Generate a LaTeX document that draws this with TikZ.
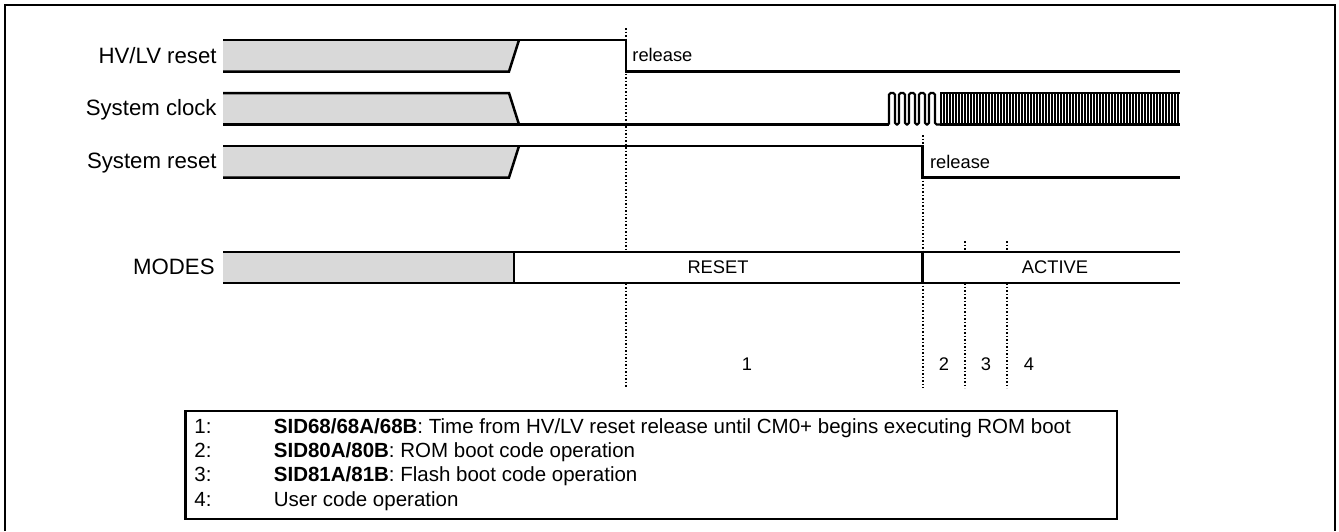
\documentclass[tikz,border=0pt]{standalone}
\usepackage{fontspec}
\setmainfont{Liberation Sans}
\definecolor{sgray}{HTML}{D9D9D9}
\begin{document}
\begin{tikzpicture}[x=0.5pt,y=-0.5pt,
  sig/.style={line width=1.25pt, line join=miter},
  frame/.style={line width=1.4pt},
  dotline/.style={line width=1.05pt, dash pattern=on 0.95pt off 0.8pt},
  lbl/.style={inner sep=0pt, font=\fontsize{11.1}{13}\selectfont},
  mid/.style={inner sep=0pt, font=\fontsize{9.15}{11}\selectfont},
  leg/.style={inner sep=0pt, font=\fontsize{10.25}{12}\selectfont}]
\useasboundingbox (0,0) rectangle (1339,531);
% outer frame
\draw[frame] (5,531) -- (5,5) -- (1335,5) -- (1335,531);
% dotted guide lines
\draw[dotline] (626,28) -- (626,388);
\draw[dotline] (922.6,135) -- (922.6,388);
\draw[dotline] (965,241) -- (965,388);
\draw[dotline] (1007,241) -- (1007,388);
% HV/LV reset
\fill[sgray] (223,40) -- (519,40) -- (509,71.5) -- (223,71.5) -- cycle;
\draw[sig] (223,40) -- (626,40) -- (626,71.5) -- (1180,71.5);
\draw[sig] (519,40) -- (509,71.5) -- (223,71.5);
% System clock
\fill[sgray] (223,93) -- (509,93) -- (519,124.5) -- (223,124.5) -- cycle;
\draw[sig] (223,93) -- (509,93) -- (519,124.5);
\draw[sig] (223,124.5) -- (889,124.5);
\draw[line width=1.1pt, rounded corners=0.8pt] (889,124.5)
  \foreach \i in {1,...,5}{ -- ++(0,-31.5) -- ++(6,0) -- ++(0,31.5) -- ++(4,0)} -- (940,124.5);
\draw[line width=0.5pt] (940,124.5)
  \foreach \i in {1,...,80}{ -- ++(0,-31.5) -- ++(1.5,0) -- ++(0,31.5) -- ++(1.5,0)};
\draw[line width=0.6pt] (940,93) -- (1180,93);
\draw[sig] (940,124.5) -- (1180,124.5);
% System reset
\fill[sgray] (223,146) -- (519,146) -- (509,177.5) -- (223,177.5) -- cycle;
\draw[sig] (223,146) -- (922.6,146) -- (922.6,177.5) -- (1180,177.5);
\draw[sig] (519,146) -- (509,177.5) -- (223,177.5);
% MODES bar
\fill[white] (514,252) rectangle (1180,283);
\fill[sgray] (223,252) rectangle (514,283);
\draw[sig] (223,252) -- (1180,252);
\draw[sig] (223,283) -- (1180,283);
\draw[sig] (514,252) -- (514,283);
\draw[sig] (922.6,252) -- (922.6,283);
% labels
\node[lbl, anchor=base east] (lhv) at (217,63.3) {HV/LV reset};
\node[lbl, anchor=base east] (lclk) at (217,115.5) {System clock};
\node[lbl, anchor=base east] (lrst) at (217,168.3) {System reset};
\node[lbl, anchor=base east] (lmodes) at (215,274) {MODES};
\node[mid, anchor=base west] (rel1) at (632,61.7) {release};
\node[mid, anchor=base west] (rel2) at (929.7,168.3) {release};
\node[mid, anchor=base] (mreset) at (718,273.3) {RESET};
\node[mid, anchor=base] (mactive) at (1055,273.3) {ACTIVE};
\node[mid, anchor=base] (n1) at (747,370) {1};
\node[mid, anchor=base] (n2) at (944,370) {2};
\node[mid, anchor=base] (n3) at (986,370) {3};
\node[mid, anchor=base] (n4) at (1029,370) {4};
% legend
\draw[line width=1.1pt] (185.5,411) rectangle (1117,519);
\node[leg, anchor=base west] (k1) at (194,433.3) {1:};
\node[leg, anchor=base west] (k2) at (194,457.5) {2:};
\node[leg, anchor=base west] (k3) at (194,481.7) {3:};
\node[leg, anchor=base west] (k4) at (194,506) {4:};
\node[leg, anchor=base west] (d1) at (273.5,433.3) {\textbf{SID68/68A/68B}: Time from HV/LV reset release until CM0+ begins executing ROM boot};
\node[leg, anchor=base west] (d2) at (273.5,457.5) {\textbf{SID80A/80B}: ROM boot code operation};
\node[leg, anchor=base west] (d3) at (273.5,481.7) {\textbf{SID81A/81B}: Flash boot code operation};
\node[leg, anchor=base west] (d4) at (273.5,506) {User code operation};
\end{tikzpicture}
\end{document}
